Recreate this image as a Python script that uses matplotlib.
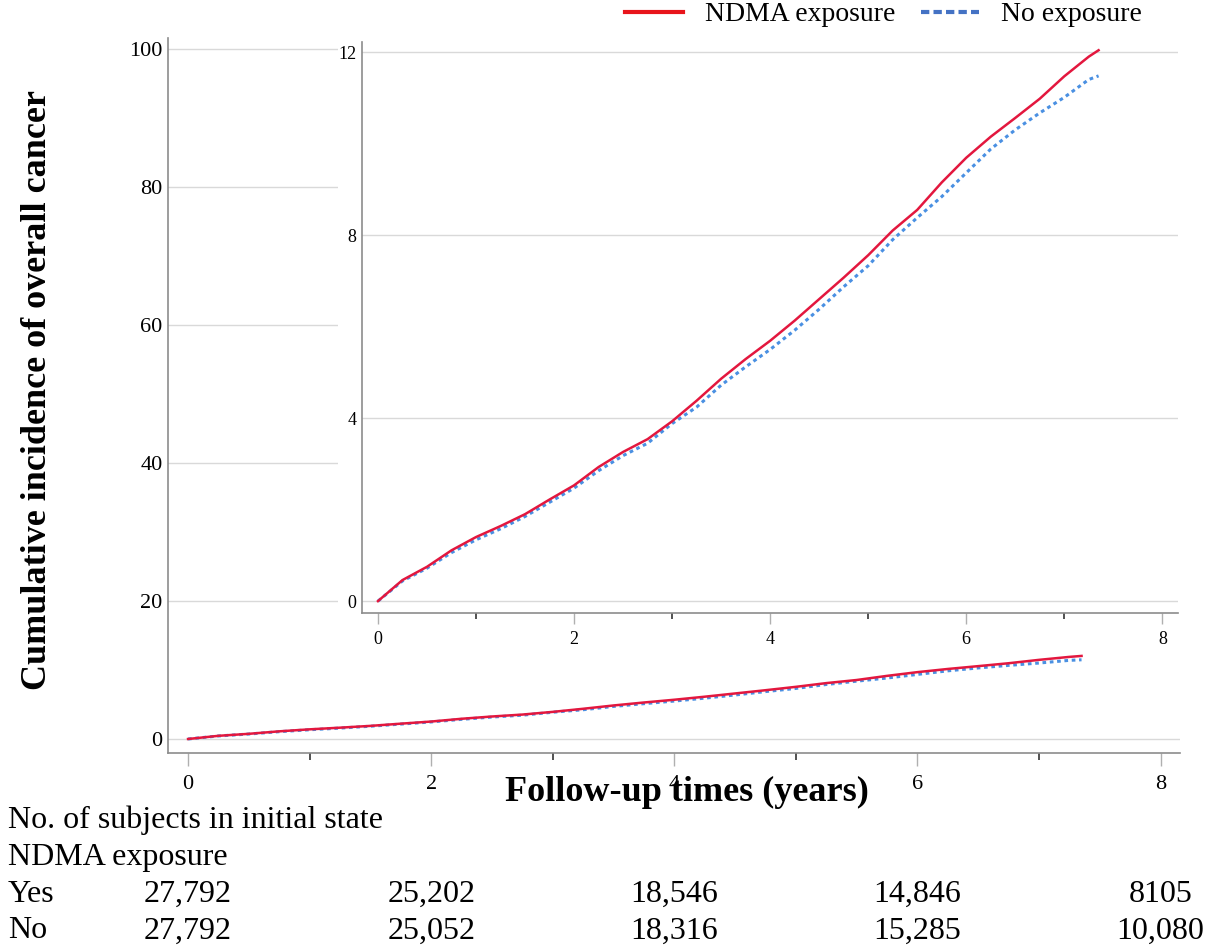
import matplotlib
matplotlib.use("Agg")
import matplotlib.pyplot as plt
from matplotlib.lines import Line2D
from matplotlib.patches import Rectangle
import matplotlib.transforms as mtransforms

plt.rcParams['font.family'] = ['Liberation Serif', 'DejaVu Serif']

# follow-up time (years) and cumulative incidence (%)
years = [0, 0.25, 0.5, 0.75, 1.0, 1.25, 1.5, 1.75, 2.0, 2.25, 2.5, 2.75, 3.0,
         3.25, 3.5, 3.75, 4.0, 4.25, 4.5, 4.75, 5.0, 5.25, 5.5, 5.75, 6.0,
         6.25, 6.5, 6.75, 7.0, 7.25, 7.35]
ndma = [0, 0.46, 0.75, 1.11, 1.40, 1.64, 1.90, 2.22, 2.53, 2.93, 3.26, 3.54,
        3.93, 4.38, 4.86, 5.29, 5.69, 6.13, 6.60, 7.07, 7.56, 8.10, 8.55,
        9.15, 9.69, 10.15, 10.56, 10.98, 11.47, 11.90, 12.04]
no_exp = [0, 0.44, 0.72, 1.06, 1.34, 1.58, 1.85, 2.16, 2.47, 2.85, 3.18, 3.45,
          3.88, 4.24, 4.72, 5.12, 5.50, 5.92, 6.38, 6.87, 7.33, 7.90, 8.38,
          8.84, 9.36, 9.88, 10.30, 10.67, 11.01, 11.40, 11.48]

# number at risk table
risk_times = [0, 2, 4, 6, 8]
risk_yes = ["27,792", "25,202", "18,546", "14,846", "8105"]
risk_no = ["27,792", "25,052", "18,316", "15,285", "10,080"]

red = '#E3173E'
blue = '#4A90E2'
grid_c = '#d9d9d9'
spine_c = '#8c8c8c'

W, H = 1208, 952
fig = plt.figure(figsize=(W / 100, H / 100), dpi=100)


def fx(px):
    return px / W


def fy(py):
    return 1 - py / H


def style_axes(ax, fs, major_len, minor_len, pad):
    for s in ['top', 'right']:
        ax.spines[s].set_visible(False)
    for s in ['left', 'bottom']:
        ax.spines[s].set_color(spine_c)
        ax.spines[s].set_linewidth(1.2)
    ax.set_xticks([0, 2, 4, 6, 8])
    ax.set_xticks([1, 3, 5, 7], minor=True)
    ax.tick_params(axis='x', which='major', length=major_len, color='#b0b0b0',
                   width=1, labelsize=fs, pad=pad)
    ax.tick_params(axis='x', which='minor', length=minor_len, color='#333333',
                   width=1.2)
    ax.tick_params(axis='y', length=0, labelsize=fs, pad=4)
    ax.grid(axis='y', color=grid_c, linewidth=1)
    ax.set_axisbelow(True)


# main axes
ax = fig.add_axes([fx(168), fy(753), fx(1180) - fx(168), fy(38) - fy(753)])
ax.plot(years, no_exp, color=blue, linestyle=(0, (1.2, 1.2)), linewidth=2.2)
ax.plot(years, ndma, color=red, linewidth=1.8)
ax.set_xlim(-0.165, 8.16)
ax.set_ylim(-2.03, 101.6)
ax.set_yticks([0, 20, 40, 60, 80, 100])
style_axes(ax, 16, 9, 5, 7)

# white area behind the inset
fig.patches.append(Rectangle((fx(338), fy(645)), fx(1180) - fx(338), fy(38) - fy(645),
                             transform=fig.transFigure, facecolor='white',
                             edgecolor='none', zorder=0.5))

# inset zoom
ins = fig.add_axes([fx(362), fy(613), fx(1178) - fx(362), fy(42) - fy(613)])
ins.set_zorder(2)
ins.plot(years, no_exp, color=blue, linestyle=(0, (1.2, 1.2)), linewidth=2.2)
ins.plot(years, ndma, color=red, linewidth=1.8)
ins.set_xlim(-0.163, 8.16)
ins.set_ylim(-0.26, 12.22)
ins.set_yticks([0, 4, 8, 12])
style_axes(ins, 13, 8, 4, 5)

# axis titles
fig.text(fx(38), fy(390), 'Cumulative incidence of overall cancer', rotation=90,
         ha='center', va='center', fontsize=26, fontweight='bold')
fig.text(fx(687), fy(792), 'Follow-up times (years)', ha='center', va='center',
         fontsize=26, fontweight='bold')

# legend
handles = [Line2D([], [], color='#E8141B', linewidth=3),
           Line2D([], [], color='#4472C4', linewidth=3, linestyle=(0, (2, 1)))]
fig.legend(handles, ['NDMA exposure', 'No exposure'], loc='upper right',
           bbox_to_anchor=(fx(1142), fy(2)), ncol=2, frameon=False,
           borderpad=0, borderaxespad=0, fontsize=20, handlelength=2.1,
           handletextpad=0.8, columnspacing=0.9)

# number at risk
fig.text(fx(8), fy(820), 'No. of subjects in initial state', ha='left', va='center',
         fontsize=23)
fig.text(fx(8), fy(857), 'NDMA exposure', ha='left', va='center', fontsize=23)
fig.text(fx(8), fy(894), 'Yes', ha='left', va='center', fontsize=23)
fig.text(fx(8), fy(931), 'No', ha='left', va='center', fontsize=23)
trans = mtransforms.blended_transform_factory(ax.transData, fig.transFigure)
for t, y_val, n_val in zip(risk_times, risk_yes, risk_no):
    ax.text(t, fy(894), y_val, transform=trans, ha='center', va='center',
            fontsize=23, clip_on=False)
    ax.text(t, fy(931), n_val, transform=trans, ha='center', va='center',
            fontsize=23, clip_on=False)

fig.savefig('out.png', dpi=100)
